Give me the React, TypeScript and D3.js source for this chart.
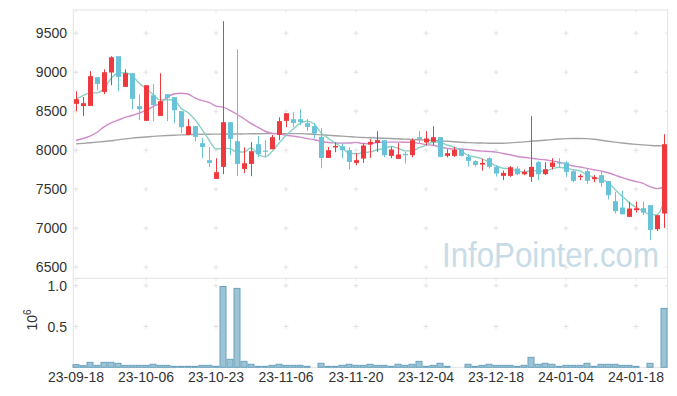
import React, { useRef, useEffect } from "react";
import * as d3 from "d3";

// trading days
const dates = [
  "23-09-18", "23-09-19", "23-09-20", "23-09-21", "23-09-22", "23-09-25", "23-09-26", "23-09-27", "23-10-04", "23-10-05",
  "23-10-06", "23-10-10", "23-10-11", "23-10-12", "23-10-13", "23-10-16", "23-10-17", "23-10-18", "23-10-19", "23-10-20",
  "23-10-23", "23-10-24", "23-10-25", "23-10-26", "23-10-27", "23-10-30", "23-10-31", "23-11-01", "23-11-02", "23-11-03",
  "23-11-06", "23-11-07", "23-11-08", "23-11-09", "23-11-10", "23-11-13", "23-11-14", "23-11-15", "23-11-16", "23-11-17",
  "23-11-20", "23-11-21", "23-11-22", "23-11-23", "23-11-24", "23-11-27", "23-11-28", "23-11-29", "23-11-30", "23-12-01",
  "23-12-04", "23-12-05", "23-12-06", "23-12-07", "23-12-08", "23-12-11", "23-12-12", "23-12-13", "23-12-14", "23-12-15",
  "23-12-18", "23-12-19", "23-12-20", "23-12-21", "23-12-22", "23-12-26", "23-12-27", "23-12-28", "24-01-02", "24-01-03",
  "24-01-04", "24-01-05", "24-01-08", "24-01-09", "24-01-10", "24-01-11", "24-01-12", "24-01-15", "24-01-16", "24-01-17",
  "24-01-18", "24-01-19", "24-01-22", "24-01-23", "24-01-24",
];

const xTickLabels = ["23-09-18", "23-10-06", "23-10-23", "23-11-06", "23-11-20", "23-12-04", "23-12-18", "24-01-04", "24-01-18"];

const opens = [
  8594, 8565, 8568, 8936, 8747, 8996, 9205, 8812, 8987, 8564,
  8376, 8705, 8440, 8718, 8680, 8500, 8196, 8308, 8090, 7872,
  7632, 7786, 8359, 8115, 7760, 7824, 8077, 7995, 8013, 8196,
  8376, 8397, 8397, 8346, 8308, 8171, 7901, 8035, 8051, 8000,
  7837, 7893, 8073, 8094, 8128, 7927, 7889, 7953, 7936, 8167,
  8099, 8107, 8167, 7927, 7927, 8013, 7915, 7859, 7816, 7897,
  7786, 7671, 7671, 7765, 7692, 7658, 7846, 7692, 7786, 7850,
  7842, 7731, 7658, 7731, 7628, 7680, 7603, 7346, 7265, 7145,
  7231, 7256, 7295, 6987, 7188,
];
const highs = [
  8756, 8683, 9013, 8936, 9038, 9205, 9205, 9038, 8987, 8718,
  8833, 8846, 8987, 8718, 8680, 8500, 8397, 8308, 8154, 8038,
  7897, 9654, 8359, 9295, 8038, 8103, 8180, 8128, 8196, 8423,
  8474, 8487, 8526, 8397, 8346, 8282, 8042, 8103, 8090, 8038,
  7962, 8090, 8141, 8244, 8128, 8042, 8090, 7978, 8150, 8244,
  8244, 8308, 8167, 8013, 8042, 8020, 7953, 7870, 7889, 7910,
  7808, 7739, 7795, 7795, 7752, 8436, 7863, 7846, 7897, 7897,
  7863, 7752, 7692, 7765, 7680, 7722, 7603, 7466, 7479, 7338,
  7342, 7342, 7295, 7167, 8205,
];
const lows = [
  8500, 8440, 8568, 8769, 8718, 8833, 8756, 8812, 8526, 8385,
  8376, 8372, 8440, 8372, 8346, 8218, 8196, 8115, 7897, 7782,
  7632, 7692, 7936, 7667, 7705, 7667, 7910, 7910, 8013, 8128,
  8295, 8295, 8320, 8244, 8150, 7769, 7901, 7974, 7897, 7756,
  7808, 7837, 7901, 7978, 7910, 7897, 7889, 7829, 7910, 8090,
  8064, 8064, 7910, 7906, 7915, 7920, 7790, 7790, 7739, 7765,
  7662, 7615, 7658, 7680, 7679, 7594, 7615, 7680, 7752, 7786,
  7658, 7590, 7615, 7568, 7590, 7530, 7368, 7188, 7179, 7145,
  7201, 7167, 6846, 6962, 7004,
];
const closes = [
  8654, 8603, 8949, 8850, 9000, 9192, 8940, 8987, 8658, 8526,
  8833, 8577, 8628, 8670, 8513, 8295, 8308, 8171, 8042, 7837,
  7718, 8359, 8145, 7824, 7833, 7987, 7949, 7980, 8167, 8372,
  8474, 8350, 8359, 8299, 8214, 7901, 8000, 8055, 8000, 7850,
  7872, 8060, 8107, 8128, 7936, 8009, 7945, 7936, 8128, 8145,
  8150, 8167, 7915, 7962, 8004, 7927, 7863, 7812, 7837, 7786,
  7701, 7709, 7782, 7692, 7722, 7786, 7692, 7756, 7842, 7829,
  7722, 7607, 7671, 7607, 7654, 7581, 7423, 7218, 7179, 7252,
  7256, 7201, 6978, 7167, 8077,
];

// moving averages
const ma5 = [
  8654, 8700, 8735, 8735, 8790, 8919, 8986, 8994, 8955, 8861,
  8789, 8716, 8644, 8647, 8644, 8537, 8483, 8391, 8266, 8131,
  8015, 8025, 8020, 7977, 7976, 8030, 7948, 7915, 7983, 8091,
  8188, 8269, 8344, 8371, 8339, 8225, 8155, 8094, 8034, 7961,
  7955, 7967, 7978, 8003, 8021, 8048, 8025, 7991, 7991, 8033,
  8061, 8105, 8101, 8068, 8040, 7995, 7934, 7914, 7889, 7845,
  7800, 7769, 7763, 7734, 7721, 7738, 7735, 7730, 7760, 7781,
  7768, 7751, 7734, 7687, 7652, 7624, 7587, 7497, 7411, 7331,
  7266, 7221, 7173, 7171, 7336,
];
const ma20 = [
  8124, 8150, 8180, 8230, 8300, 8350, 8385, 8420, 8445, 8475,
  8510, 8560, 8600, 8680, 8720, 8731, 8720, 8670, 8635, 8612,
  8565, 8553, 8512, 8461, 8403, 8343, 8293, 8243, 8218, 8210,
  8192, 8181, 8168, 8149, 8134, 8114, 8099, 8093, 8091, 8092,
  8100, 8085, 8083, 8098, 8103, 8104, 8104, 8102, 8100, 8088,
  8072, 8063, 8041, 8024, 8014, 8015, 8008, 7996, 7988, 7984,
  7976, 7958, 7942, 7920, 7910, 7898, 7886, 7877, 7863, 7847,
  7825, 7797, 7785, 7767, 7750, 7733, 7711, 7681, 7648, 7621,
  7599, 7574, 7533, 7507, 7525,
];
const ma60 = [
  8081, 8088, 8095, 8103, 8112, 8122, 8132, 8145, 8155, 8163,
  8170, 8177, 8183, 8188, 8192, 8196, 8199, 8202, 8204, 8205,
  8206, 8207, 8208, 8208, 8209, 8210, 8211, 8212, 8212, 8213,
  8213, 8213, 8212, 8208, 8203, 8197, 8191, 8186, 8180, 8174,
  8168, 8163, 8160, 8156, 8153, 8150, 8146, 8142, 8138, 8134,
  8129, 8124, 8120, 8114, 8108, 8102, 8097, 8094, 8092, 8090,
  8089, 8090, 8094, 8100, 8107, 8114, 8121, 8128, 8136, 8143,
  8148, 8150, 8150, 8148, 8140, 8128, 8115, 8103, 8092, 8083,
  8075, 8068, 8062, 8057, 8055,
];

// volume, x10^6
const volumes = [
  0.033, 0.02, 0.061, 0.024, 0.061, 0.061, 0.049, 0.024, 0.024, 0.024,
  0.024, 0.037, 0.024, 0.024, 0.012, 0.012, 0.012, 0.012, 0.024, 0.024,
  0.012, 0.99, 0.098, 0.967, 0.073, 0.037, 0.012, 0.012, 0.024, 0.037,
  0.024, 0.024, 0.024, 0.012, 0, 0.049, 0.012, 0.012, 0.024, 0.037,
  0.024, 0.024, 0.037, 0.024, 0.024, 0.012, 0.037, 0.024, 0.037, 0.073,
  0.012, 0.024, 0.049, 0.012, 0, 0, 0.037, 0.012, 0.024, 0.037,
  0.024, 0.024, 0.024, 0.012, 0.024, 0.122, 0.037, 0.049, 0.037, 0.012,
  0.024, 0.024, 0.024, 0.049, 0.012, 0.037, 0.037, 0.037, 0.024, 0.024,
  0.012, 0, 0.049, 0, 0.722,
];

const priceTicks = [6500, 7000, 7500, 8000, 8500, 9000, 9500];
const volTicks = [0.5, 1.0];

const W = 677;
const H = 396;
const UP = "#ee3a3e";
const DOWN = "#68c2d8";
const FONT = "'Liberation Sans', Arial, sans-serif";

const App = () => {
  const ref = useRef<SVGSVGElement>(null);

  useEffect(() => {
    const svg = d3.select(ref.current);
    svg.selectAll("*").remove();

    const left = 73.3, right = 667.5;
    const top = 10, sep = 278.3, bottom = 367.3;

    const x = d3.scaleBand().domain(dates).range([left - 0.8, left - 0.8 + dates.length * 7]).padding(0);
    const cx = (d: string) => (x(d) as number) + x.bandwidth() / 2;
    const y = d3.scaleLinear().domain([6500, 9500]).range([267.2, 33.2]);
    const yv = d3.scaleLinear().domain([0, 1]).range([bottom, 285.7]);

    const gridX = xTickLabels.map(cx);

    // frame
    const frame = svg.append("g").attr("stroke", "#e3e3e3").attr("fill", "none");
    frame.append("rect").attr("x", left).attr("y", top).attr("width", right - left).attr("height", bottom - top);
    frame.append("line").attr("x1", left).attr("x2", right).attr("y1", sep).attr("y2", sep);

    // grid crosses
    const crossYs = [...priceTicks.map(y), ...volTicks.map(yv)];
    const cross = svg.append("g").attr("stroke", "#e2e2e2").attr("stroke-width", 1);
    gridX.forEach(gx => {
      crossYs.forEach(gy => {
        cross.append("line").attr("x1", gx - 2.5).attr("x2", gx + 2.5).attr("y1", gy).attr("y2", gy);
        cross.append("line").attr("x1", gx).attr("x2", gx).attr("y1", gy - 2.5).attr("y2", gy + 2.5);
      });
      [top, sep].forEach(gy => {
        cross.append("line").attr("x1", gx).attr("x2", gx).attr("y1", gy).attr("y2", gy + 2.5);
      });
    });
    crossYs.forEach(gy => {
      cross.append("line").attr("x1", left).attr("x2", left + 2.5).attr("y1", gy).attr("y2", gy);
      cross.append("line").attr("x1", right - 2.5).attr("x2", right).attr("y1", gy).attr("y2", gy);
    });

    // watermark
    svg.append("text")
      .attr("x", 442).attr("y", 266.5)
      .attr("font-family", FONT).attr("font-size", 35)
      .attr("textLength", 217).attr("lengthAdjust", "spacingAndGlyphs")
      .attr("fill", "#c8dce7")
      .text("InfoPointer.com");

    // moving averages
    const mkLine = (vals: number[]) =>
      d3.line<number>().x((_, i) => cx(dates[i])).y(v => y(v)).curve(d3.curveMonotoneX)(vals);
    [[ma60, "#a3a3a3"], [ma20, "#cf8cc9"], [ma5, "#8ad0c5"]].forEach(([vals, col]) => {
      svg.append("path")
        .attr("d", mkLine(vals as number[]))
        .attr("fill", "none")
        .attr("stroke", col as string)
        .attr("stroke-width", 1.4);
    });

    // candles
    const cg = svg.append("g");
    dates.forEach((d, i) => {
      const o = opens[i], c = closes[i];
      const col = c >= o ? UP : DOWN;
      const xc = Math.round(cx(d)) + 0.5;
      cg.append("line")
        .attr("x1", xc).attr("x2", xc)
        .attr("y1", y(highs[i])).attr("y2", y(lows[i]))
        .attr("stroke", col).attr("stroke-width", 1);
      const yt = y(Math.max(o, c));
      const yb = y(Math.min(o, c));
      cg.append("rect")
        .attr("x", xc - 2.5).attr("width", 5)
        .attr("y", yt).attr("height", Math.max(1.2, yb - yt))
        .attr("fill", col);
    });

    // volume
    const vg = svg.append("g");
    dates.forEach((d, i) => {
      if (!volumes[i]) return;
      vg.append("rect")
        .attr("x", (x(d) as number) + 0.5).attr("width", x.bandwidth() - 1)
        .attr("y", yv(volumes[i])).attr("height", bottom - yv(volumes[i]))
        .attr("fill", "#9cc3d4").attr("stroke", "#6aa2bf").attr("stroke-width", 1);
    });

    // axis labels
    const lab = svg.append("g").attr("font-family", FONT).attr("font-size", 14).attr("fill", "#333");
    priceTicks.forEach(t => {
      lab.append("text").attr("x", 67).attr("y", y(t)).attr("dy", "0.36em").attr("text-anchor", "end").text(t);
    });
    volTicks.forEach(t => {
      lab.append("text").attr("x", 67).attr("y", yv(t)).attr("dy", "0.36em").attr("text-anchor", "end").text(d3.format(".1f")(t));
    });
    xTickLabels.forEach(t => {
      lab.append("text").attr("x", cx(t)).attr("y", 382).attr("text-anchor", "middle").text(t);
    });
    const unit = lab.append("text").attr("transform", "translate(37,320) rotate(-90)").attr("text-anchor", "middle");
    unit.append("tspan").text("10");
    unit.append("tspan").attr("dy", -6).attr("font-size", 10).text("6");
  }, []);

  return (
    <div style={{ position: "absolute", left: 0, top: 0 }}>
      <svg ref={ref} width={W} height={H} style={{ display: "block", background: "#fff" }}></svg>
    </div>
  );
};

export default App;
